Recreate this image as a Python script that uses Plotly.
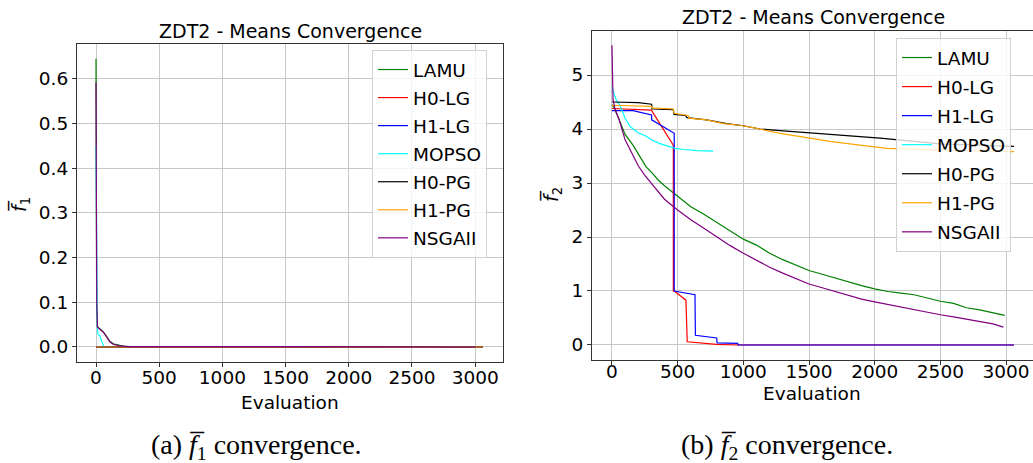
import plotly.graph_objects as go

# ---------------- data: panel (a) mean f1 ----------------
lamu_f1_x = [0, 2, 5, 10, 30, 58, 85, 111, 137, 180, 214, 300, 3000]
lamu_f1_y = [0.645, 0.30, 0.10, 0.046, 0.040, 0.034, 0.023, 0.012, 0.007, 0.004, 0.002, 0.0005, 0.0]
h0lg_f1_x = [0, 3060]
h0lg_f1_y = [0.0, 0.0]
h1lg_f1_x = [0, 3060]
h1lg_f1_y = [0.0, 0.0]
mopso_f1_x = [0, 4, 10, 15, 30, 45, 58, 65]
mopso_f1_y = [0.45, 0.10, 0.05, 0.028, 0.026, 0.012, 0.004, 0.0]
h0pg_f1_x = [0, 3062]
h0pg_f1_y = [0.0, 0.0]
h1pg_f1_x = [0, 3060]
h1pg_f1_y = [0.0, 0.0]
nsga_f1_x = [0, 3, 6, 12, 30, 58, 85, 111, 137, 180, 250, 3000]
nsga_f1_y = [0.592, 0.25, 0.10, 0.044, 0.039, 0.033, 0.022, 0.011, 0.006, 0.003, 0.001, 0.0]

# ---------------- data: panel (b) mean f2 ----------------
lamu_f2_x = [0, 20, 60, 100, 160, 200, 260, 300, 350, 400, 490, 550, 600, 700, 800, 900, 1000,
             1100, 1200, 1300, 1400, 1500, 1600, 1700, 1800, 1900, 2000, 2100, 2200, 2300,
             2400, 2500, 2600, 2700, 2800, 2900, 2990]
lamu_f2_y = [4.45, 4.38, 4.14, 3.90, 3.70, 3.55, 3.30, 3.20, 3.06, 2.95, 2.78, 2.65, 2.56, 2.42,
             2.27, 2.12, 1.96, 1.85, 1.70, 1.58, 1.48, 1.38, 1.31, 1.24, 1.16, 1.10, 1.04, 0.99,
             0.96, 0.93, 0.87, 0.81, 0.77, 0.69, 0.65, 0.60, 0.55]
h0lg_f2_x = [0, 300, 467, 467, 479, 563, 573, 797, 960, 3060]
h0lg_f2_y = [4.38, 4.35, 3.70, 1.00, 0.99, 0.83, 0.06, 0.01, 0.0, 0.0]
h1lg_f2_x = [0, 160, 302, 302, 474, 474, 632, 635, 797, 800, 957, 960, 3060]
h1lg_f2_y = [4.34, 4.34, 4.26, 4.17, 3.92, 1.00, 0.93, 0.18, 0.13, 0.04, 0.03, 0.0, 0.0]
mopso_f2_x = [0, 30, 60, 100, 140, 200, 265, 300, 365, 420, 480, 550, 650, 770]
mopso_f2_y = [4.78, 4.55, 4.44, 4.20, 4.04, 3.93, 3.86, 3.80, 3.73, 3.68, 3.64, 3.62, 3.60, 3.59]
h0pg_f2_x = [0, 200, 302, 305, 467, 472, 560, 570, 721, 873, 1000, 1127, 1279, 1508, 1660,
             1836, 2040, 2300, 2520, 2800, 3060]
h0pg_f2_y = [4.50, 4.49, 4.46, 4.37, 4.36, 4.27, 4.25, 4.21, 4.17, 4.10, 4.06, 4.00, 3.97, 3.93,
             3.89, 3.86, 3.83, 3.77, 3.72, 3.70, 3.68]
h1pg_f2_x = [0, 300, 305, 467, 472, 580, 585, 720, 850, 974, 1101, 1279, 1507, 1659, 1887,
             2092, 2519, 3060]
h1pg_f2_y = [4.44, 4.42, 4.39, 4.37, 4.29, 4.25, 4.20, 4.17, 4.10, 4.07, 4.01, 3.92, 3.83, 3.77,
             3.70, 3.64, 3.61, 3.58]
nsga_f2_x = [0, 8, 25, 55, 100, 150, 200, 250, 300, 350, 400, 500, 600, 700, 800, 900, 1000,
             1100, 1200, 1300, 1400, 1500, 1600, 1700, 1800, 1900, 2000, 2100, 2200, 2300,
             2400, 2500, 2600, 2700, 2800, 2900, 2980]
nsga_f2_y = [5.55, 4.55, 4.35, 4.17, 3.80, 3.55, 3.32, 3.14, 2.99, 2.85, 2.70, 2.50, 2.32, 2.16,
             2.00, 1.84, 1.70, 1.57, 1.44, 1.33, 1.23, 1.13, 1.06, 0.99, 0.91, 0.85, 0.80, 0.75,
             0.70, 0.66, 0.61, 0.56, 0.52, 0.48, 0.43, 0.39, 0.33]

names = ["LAMU", "H0-LG", "H1-LG", "MOPSO", "H0-PG", "H1-PG", "NSGAII"]
colors = ["green", "red", "blue", "cyan", "black", "orange", "purple"]

panel_a = [(lamu_f1_x, lamu_f1_y), (h0lg_f1_x, h0lg_f1_y), (h1lg_f1_x, h1lg_f1_y),
           (mopso_f1_x, mopso_f1_y), (h0pg_f1_x, h0pg_f1_y), (h1pg_f1_x, h1pg_f1_y),
           (nsga_f1_x, nsga_f1_y)]
panel_b = [(lamu_f2_x, lamu_f2_y), (h0lg_f2_x, h0lg_f2_y), (h1lg_f2_x, h1lg_f2_y),
           (mopso_f2_x, mopso_f2_y), (h0pg_f2_x, h0pg_f2_y), (h1pg_f2_x, h1pg_f2_y),
           (nsga_f2_x, nsga_f2_y)]

W, H = 1033, 463
FONT = "DejaVu Sans"
LW = 1.2

fig = go.Figure()
for (x, y), n, c in zip(panel_a, names, colors):
    fig.add_trace(go.Scatter(x=x, y=y, mode="lines", name=n, line=dict(color=c, width=LW),
                             xaxis="x", yaxis="y", legend="legend", legendgroup="a_" + n))
for (x, y), n, c in zip(panel_b, names, colors):
    fig.add_trace(go.Scatter(x=x, y=y, mode="lines", name=n, line=dict(color=c, width=LW),
                             xaxis="x2", yaxis="y2", legend="legend2", legendgroup="b_" + n))

def px_x(p):
    return p / W

def px_y(p):
    return 1 - p / H

axis_common = dict(
    showgrid=True, gridcolor="#c8c8c8", gridwidth=1, zeroline=False,
    showline=True, linecolor="#333333", linewidth=1.2,
    ticks="outside", ticklen=4, tickwidth=1, tickcolor="#333333",
    tickfont=dict(family=FONT, size=18.5, color="black"),
)

fig.update_layout(
    width=W, height=H, margin=dict(l=0, r=0, t=0, b=0),
    paper_bgcolor="white", plot_bgcolor="white",
    font=dict(family=FONT, color="black"),
    xaxis=dict(domain=[px_x(77), px_x(503)], range=[-150.3, 3220], tickvals=[0, 500, 1000, 1500, 2000, 2500, 3000],
               mirror=True, anchor="y", ticklabelstandoff=-5, **axis_common),
    yaxis=dict(domain=[px_y(362), px_y(44)], range=[-0.0336, 0.678],
               tickvals=[0.0, 0.1, 0.2, 0.3, 0.4, 0.5, 0.6], tickformat=".1f",
               mirror=True, anchor="x", **axis_common),
    xaxis2=dict(domain=[px_x(592), 1.0], range=[-152, 3205], tickvals=[0, 500, 1000, 1500, 2000, 2500, 3000],
                mirror=True, anchor="y2", ticklabelstandoff=-9, **axis_common),
    yaxis2=dict(domain=[px_y(360), px_y(31)], range=[-0.278, 5.815], tickvals=[0, 1, 2, 3, 4, 5],
                mirror=False, anchor="x2", **axis_common),
    legend=dict(x=px_x(372), y=px_y(50), xanchor="left", yanchor="top",
                bgcolor="rgba(255,255,255,0.8)", bordercolor="#d0d0d0", borderwidth=1,
                tracegroupgap=1,
                font=dict(family=FONT, size=18.5, color="black")),
    legend2=dict(x=px_x(896), y=px_y(38), xanchor="left", yanchor="top",
                 bgcolor="rgba(255,255,255,0.8)", bordercolor="#d0d0d0", borderwidth=1,
                 tracegroupgap=2,
                 font=dict(family=FONT, size=18.5, color="black")),
    showlegend=True,
)

ann = []
def add_text(text, x, y, size, family=FONT, angle=0):
    ann.append(dict(text=text, x=px_x(x), y=px_y(y), xref="paper", yref="paper",
                    xanchor="center", yanchor="middle", showarrow=False, textangle=angle,
                    font=dict(family=family, size=size, color="black")))

add_text("ZDT2 - Means Convergence", 290, 31, 19)
add_text("ZDT2 - Means Convergence", 813, 17, 19)
add_text("Evaluation", 290, 402, 18.5)
add_text("Evaluation", 812, 393, 18.5)
add_text("<i>f\u0305</i><sub>1</sub>", 20, 205, 19, angle=-90)
add_text("<i>f\u0305</i><sub>2</sub>", 552, 195, 19, angle=-90)
add_text("(a) <i>f\u0305</i><sub>1</sub> convergence.", 256, 446, 28, family="Liberation Serif")
add_text("(b) <i>f\u0305</i><sub>2</sub> convergence.", 787, 446, 28, family="Liberation Serif")
fig.update_layout(annotations=ann)

fig.write_html("out.html")
